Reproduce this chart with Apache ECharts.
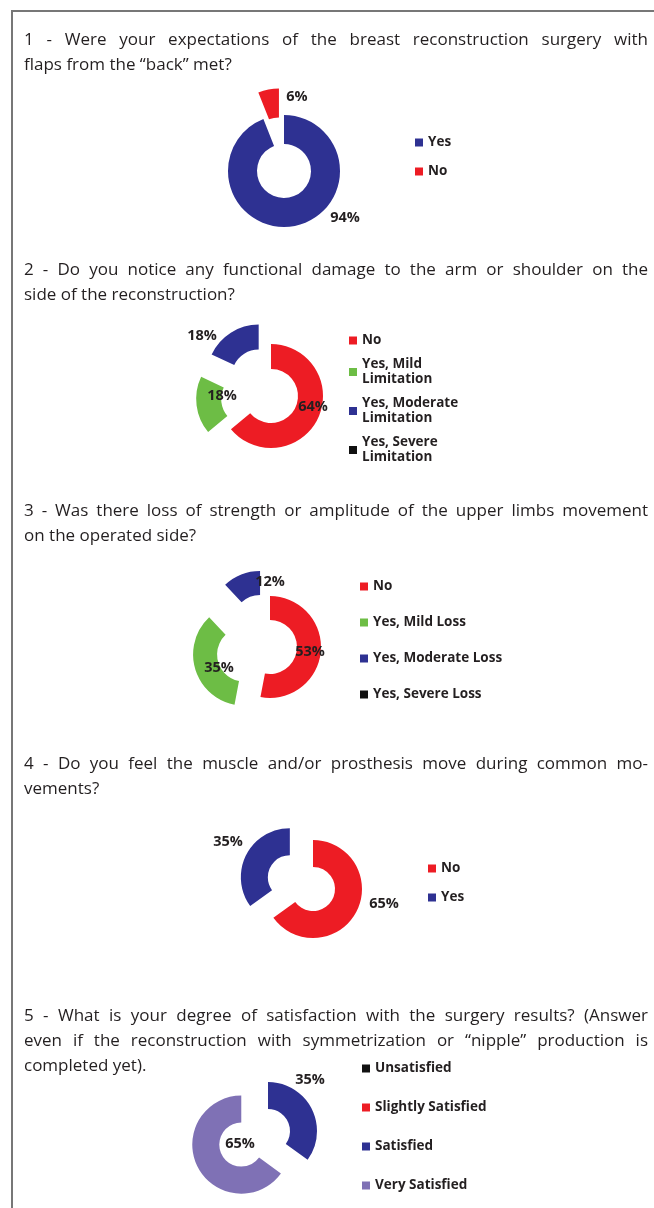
<!DOCTYPE html>
<html>
<head>
<meta charset="utf-8">
<script src="https://cdn.jsdelivr.net/npm/echarts@6/dist/echarts.min.js"></script>
<style>
  html, body { margin: 0; padding: 0; background: #fff; }
  #page { position: relative; width: 654px; height: 1208px; overflow: hidden; }
  #chart { position: absolute; left: 0; top: 0; width: 654px; height: 1208px; }
  .frame { position: absolute; left: 11px; top: 10px; width: 700px; height: 1300px;
           border-left: 2px solid #777; border-top: 2px solid #777; }
  .q { position: absolute; left: 24px; width: 624px; font-family: "Open Sans", sans-serif;
       font-size: 17px; line-height: 25px; color: #231f20; pointer-events: none; }
  .q .j { text-align: justify; text-align-last: justify; }
</style>
</head>
<body>
<div id="page">
  <div class="frame"></div>
  <div id="chart"></div>
</div>
<script>
// question texts (one entry per printed line)
const questions = [
  ['1 - Were your expectations of the breast reconstruction surgery with',
   'flaps from the \u201cback\u201d met?'],
  ['2 - Do you notice any functional damage to the arm or shoulder on the',
   'side of the reconstruction?'],
  ['3 - Was there loss of strength or amplitude of the upper limbs movement',
   'on the operated side?'],
  ['4 - Do you feel the muscle and/or prosthesis move during common mo-',
   'vements?'],
  ['5 - What is your degree of satisfaction with the surgery results? (Answer',
   'even if the reconstruction with symmetrization or \u201cnipple\u201d production is',
   'completed yet).']
];
const questionTops = [26, 256, 497, 750, 1002];

// answers (percent)
const q1Names = ['Yes', 'No'];
const q1Values = [94, 6];
const q2Names = ['No', 'Yes, Mild Limitation', 'Yes, Moderate Limitation', 'Yes, Severe Limitation'];
const q2Values = [64, 18, 18, 0];
const q3Names = ['No', 'Yes, Mild Loss', 'Yes, Moderate Loss', 'Yes, Severe Loss'];
const q3Values = [53, 35, 12, 0];
const q4Names = ['No', 'Yes'];
const q4Values = [65, 35];
const q5Names = ['Unsatisfied', 'Slightly Satisfied', 'Satisfied', 'Very Satisfied'];
const q5Values = [0, 0, 35, 65];

const NAVY = '#2e3192', RED = '#ed1c24', GREEN = '#6dbd45', BLACK = '#111', PURPLE = '#7f71b5';

// text overlay
const page = document.getElementById('page');
questions.forEach((lines, qi) => {
  const box = document.createElement('div');
  box.className = 'q';
  box.style.top = questionTops[qi] + 'px';
  lines.forEach((line, li) => {
    const d = document.createElement('div');
    if (li < lines.length - 1) d.className = 'j';
    d.textContent = line;
    box.appendChild(d);
  });
  page.appendChild(box);
});

// layout of each donut: center, radii, exploded slices, label spots (from center), legend
const charts = [
  { names: q1Names, values: q1Values, colors: [NAVY, RED],
    center: [284, 171], radius: [27, 56], explode: [1], offset: 27,
    labels: [[61, 47], [13, -74]],
    legend: { left: 415, top: 135, itemGap: 14 } },
  { names: q2Names, values: q2Values, colors: [RED, GREEN, NAVY, BLACK],
    center: [271, 396], radius: [27, 52], explode: [1, 2], offset: 23,
    labels: [[42, 11], [-49, 0], [-69, -60], null],
    legend: { left: 349, top: 333, itemGap: 9 },
    wrap: true },
  { names: q3Names, values: q3Values, colors: [RED, GREEN, NAVY, BLACK],
    center: [270, 647], radius: [27, 51], explode: [1, 2], offset: 27,
    labels: [[40, 5], [-51, 21], [0, -65], null],
    legend: { left: 360, top: 579, itemGap: 21 } },
  { names: q4Names, values: q4Values, colors: [RED, NAVY],
    center: [313, 889], radius: [22, 49], explode: [1], offset: 26,
    labels: [[71, 15], [-85, -47]],
    legend: { left: 428, top: 861, itemGap: 14 } },
  { names: q5Names, values: q5Values, colors: [BLACK, RED, NAVY, PURPLE],
    center: [268, 1131], radius: [22, 49], explode: [3], offset: 30,
    labels: [null, null, [42, -51], [-28, 13]],
    legend: { left: 362, top: 1061, itemGap: 24 } }
];

const legends = charts.map(c => ({
  orient: 'vertical',
  left: c.legend.left,
  top: c.legend.top,
  padding: 0,
  itemGap: c.legend.itemGap,
  itemWidth: 8,
  itemHeight: 8,
  icon: 'rect',
  selectedMode: false,
  data: c.names,
  formatter: c.wrap ? (n => n.replace(' Limitation', '\nLimitation')) : '{name}',
  textStyle: { fontFamily: 'Open Sans', fontWeight: 'bold', fontSize: 13.5,
               color: '#231f20', lineHeight: 15 }
}));

// visible donuts (exploded slices via select state)
const donuts = charts.map(c => ({
  type: 'pie',
  center: c.center,
  radius: c.radius,
  startAngle: 90,
  clockwise: true,
  selectedMode: 'multiple',
  selectedOffset: c.offset,
  emphasis: { disabled: true },
  itemStyle: { borderWidth: 0 },
  label: { show: false },
  labelLine: { show: false },
  data: c.names.map((n, i) => ({
    name: n,
    value: c.values[i],
    selected: c.explode.includes(i),
    itemStyle: { color: c.colors[i] }
  }))
}));

// same slices again, see-through, only carrying the percent labels
const labelRings = charts.map(c => ({
  type: 'pie',
  center: c.center,
  radius: c.radius,
  startAngle: 90,
  clockwise: true,
  silent: true,
  selectedMode: false,
  avoidLabelOverlap: false,
  emphasis: { disabled: true },
  itemStyle: { color: 'rgba(0,0,0,0)', borderWidth: 0 },
  label: {
    show: true,
    position: 'inside',
    opacity: 1,
    formatter: p => (p.value ? p.value + '%' : ''),
    fontFamily: 'Open Sans', fontWeight: 'bold', fontSize: 14.5, color: '#231f20'
  },
  labelLine: { show: false },
  labelLayout: p => {
    const o = c.labels[p.dataIndex];
    if (!o) return {};
    return { x: c.center[0] + o[0], y: c.center[1] + o[1], align: 'center', verticalAlign: 'middle' };
  },
  data: c.names.map((n, i) => ({ name: n, value: c.values[i] }))
}));

const chartInstance = echarts.init(document.getElementById('chart'));
chartInstance.setOption({
  animation: false,
  tooltip: { show: false },
  legend: legends,
  series: donuts.concat(labelRings)
});
</script>
</body>
</html>
